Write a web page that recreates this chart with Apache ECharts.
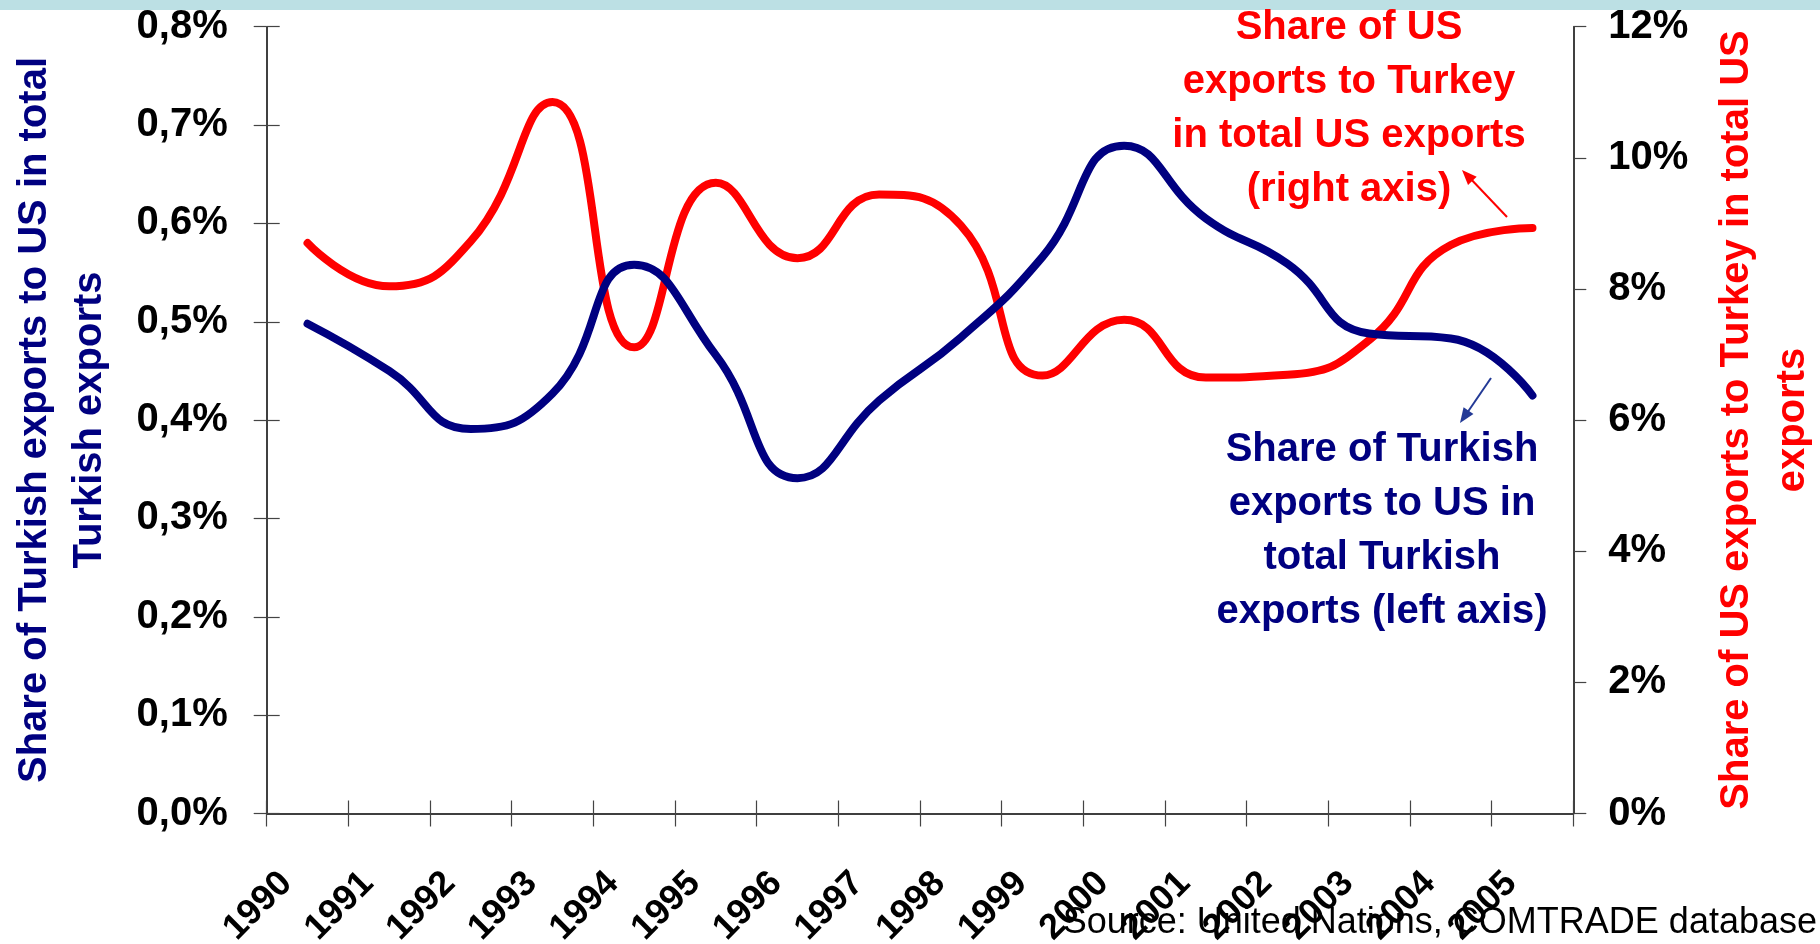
<!DOCTYPE html>
<html>
<head>
<meta charset="utf-8">
<script src="https://cdn.jsdelivr.net/npm/echarts@6/dist/echarts.min.js"></script>
<style>
html,body{margin:0;padding:0;background:#ffffff;}
#chart{width:1820px;height:944px;}
</style>
</head>
<body>
<div id="chart"></div>
<script>
// ---- data ----
const years = ['1990','1991','1992','1993','1994','1995','1996','1997','1998','1999','2000','2001','2002','2003','2004','2005'];
// Share of Turkish exports to US in total Turkish exports (%), left axis
const turkishExportsToUS = [0.498, 0.450, 0.391, 0.427, 0.558, 0.466, 0.341, 0.420, 0.484, 0.566, 0.679, 0.605, 0.559, 0.488, 0.483, 0.425];
// Share of US exports to Turkey in total US exports (%), right axis
const usExportsToTurkey = [8.70, 8.04, 8.73, 10.85, 7.11, 9.62, 8.47, 9.44, 8.97, 6.68, 7.53, 6.65, 6.69, 7.22, 8.67, 8.93];
const leftTickLabels = ['0,0%','0,1%','0,2%','0,3%','0,4%','0,5%','0,6%','0,7%','0,8%'];
const rightTickLabels = ['0%','2%','4%','6%','8%','10%','12%'];
const leftTitle = 'Share of Turkish exports to US in total\nTurkish exports';
const rightTitle = 'Share of US exports to Turkey in total US\nexports';
const redNote = 'Share of US\nexports to Turkey\nin total US exports\n(right axis)';
const blueNote = 'Share of Turkish\nexports to US in\ntotal Turkish\nexports (left axis)';
const sourceText = 'Source: United Nations, COMTRADE database';

const FONT = '"Liberation Sans", Arial, Helvetica, sans-serif';
const NAVY = '#000080';
const RED = '#FF0000';

const chart = echarts.init(document.getElementById('chart'), null, {renderer: 'canvas'});

const baseX = {
  type: 'category', data: years, boundaryGap: true, position: 'bottom', gridIndex: 0
};
const baseYLeft = { type: 'value', min: 0, max: 0.8, interval: 0.1, position: 'left', splitLine: {show: false} };

function arrowHead(tip, tail, len, half) {
  const dx = tip[0] - tail[0], dy = tip[1] - tail[1];
  const L = Math.sqrt(dx*dx + dy*dy);
  const ux = dx / L, uy = dy / L;
  const bx = tip[0] - ux*len, by = tip[1] - uy*len;
  const px = -uy*half, py = ux*half;
  return [tip, [bx+px, by+py], [bx-px, by-py]];
}

const option = {
  animation: false,
  backgroundColor: '#ffffff',
  grid: { left: 266.7, right: 246.7, top: 26.7, bottom: 130.5, containLabel: false, outerBoundsMode: 'none' },
  xAxis: [
    Object.assign({}, baseX, {
      axisLine: {show: true, lineStyle: {color: '#000000', width: 1.5}},
      axisTick: {show: true, inside: false, length: 13, interval: 0, lineStyle: {color: '#444444', width: 1.2}},
      axisLabel: {
        show: true, interval: 0, rotate: 45, margin: 43,
        padding: [0, 30, 62, 0],
        color: '#000000', fontFamily: FONT, fontWeight: 'bold', fontSize: 36
      },
      splitLine: {show: false}
    }),
    Object.assign({}, baseX, {
      axisLine: {show: false},
      axisTick: {show: true, inside: true, length: 13, interval: 0, lineStyle: {color: '#444444', width: 1.2}},
      axisLabel: {show: false},
      splitLine: {show: false}
    })
  ],
  yAxis: [
    Object.assign({}, baseYLeft, {
      axisLine: {show: true, lineStyle: {color: '#000000', width: 1.5}},
      axisTick: {show: true, inside: false, length: 13, lineStyle: {color: '#444444', width: 1.2}},
      axisLabel: {
        show: true, margin: 39, color: '#000000', fontFamily: FONT, fontWeight: 'bold', fontSize: 40,
        formatter: function (v) { return leftTickLabels[Math.round(v / 0.1)]; }
      }
    }),
    {
      type: 'value', min: 0, max: 12, interval: 2, position: 'right', splitLine: {show: false},
      axisLine: {show: true, lineStyle: {color: '#000000', width: 1.5}},
      axisTick: {show: true, inside: false, length: 13, lineStyle: {color: '#444444', width: 1.2}},
      axisLabel: {
        show: true, margin: 35, color: '#000000', fontFamily: FONT, fontWeight: 'bold', fontSize: 40,
        formatter: function (v) { return rightTickLabels[Math.round(v / 2)]; }
      }
    },
    Object.assign({}, baseYLeft, {
      axisLine: {show: false},
      axisTick: {show: true, inside: true, length: 13, lineStyle: {color: '#444444', width: 1.2}},
      axisLabel: {show: false}
    })
  ],
  series: [
    {
      type: 'line', name: 'US exports to Turkey', xAxisIndex: 0, yAxisIndex: 1,
      data: usExportsToTurkey, smooth: 0.5, symbol: 'none',
      lineStyle: {color: RED, width: 8, cap: 'round', join: 'round'}, z: 3
    },
    {
      type: 'line', name: 'Turkish exports to US', xAxisIndex: 0, yAxisIndex: 0,
      data: turkishExportsToUS, smooth: 0.5, symbol: 'none',
      lineStyle: {color: NAVY, width: 8, cap: 'round', join: 'round'}, z: 4
    }
  ],
  graphic: [
    {type: 'rect', silent: true, shape: {x: 0, y: 0, width: 1820, height: 10}, style: {fill: '#BCE0E4'}},
    {type: 'text', silent: true, x: 62, y: 420, rotation: Math.PI / 2,
      style: {text: leftTitle, fontFamily: FONT, fontWeight: 'bold', fontSize: 40, lineHeight: 55,
        fill: NAVY, align: 'center', verticalAlign: 'middle'}},
    {type: 'text', silent: true, x: 1765, y: 420, rotation: Math.PI / 2,
      style: {text: rightTitle, fontFamily: FONT, fontWeight: 'bold', fontSize: 40, lineHeight: 56,
        fill: RED, align: 'center', verticalAlign: 'middle'}},
    {type: 'text', silent: true, x: 1349, y: 109,
      style: {text: redNote, fontFamily: FONT, fontWeight: 'bold', fontSize: 40, lineHeight: 54,
        fill: RED, align: 'center', verticalAlign: 'middle'}},
    {type: 'text', silent: true, x: 1382, y: 531,
      style: {text: blueNote, fontFamily: FONT, fontWeight: 'bold', fontSize: 40, lineHeight: 54,
        fill: NAVY, align: 'center', verticalAlign: 'middle'}},
    {type: 'line', silent: true, shape: {x1: 1507, y1: 217, x2: 1468, y2: 176}, style: {stroke: RED, lineWidth: 2}},
    {type: 'polygon', silent: true, shape: {points: arrowHead([1462, 170], [1507, 217], 15, 6)}, style: {fill: RED}},
    {type: 'line', silent: true, shape: {x1: 1491, y1: 378, x2: 1465, y2: 416}, style: {stroke: '#233A96', lineWidth: 2}},
    {type: 'polygon', silent: true, shape: {points: arrowHead([1460, 423], [1491, 378], 15, 6)}, style: {fill: '#233A96'}},
    {type: 'text', silent: true, x: 1817, y: 923, z: 100,
      style: {text: sourceText, fontFamily: FONT, fontWeight: 'normal', fontSize: 36,
        fill: '#000000', align: 'right', verticalAlign: 'middle'}}
  ]
};
chart.setOption(option);
</script>
</body>
</html>
